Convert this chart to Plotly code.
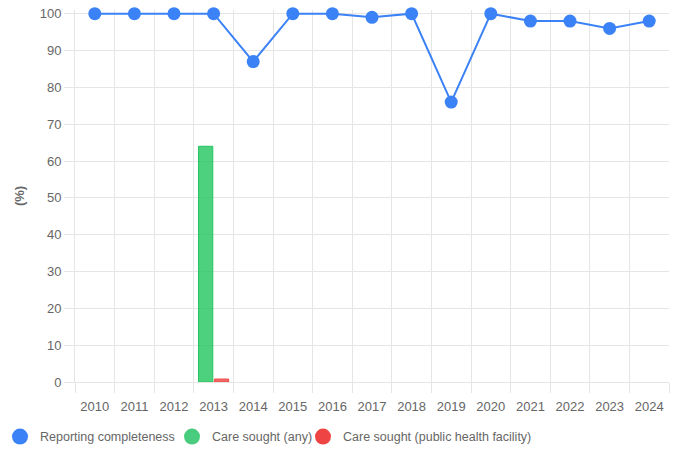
import plotly.graph_objects as go

years = [str(y) for y in range(2010, 2025)]
reporting = [100, 100, 100, 100, 87, 100, 100, 99, 100, 76, 100, 98, 98, 96, 98]
care_any = [None, None, None, 64, None, None, None, None, None, None, None, None, None, None, None]
care_public = [None, None, None, 0.8, None, None, None, None, None, None, None, None, None, None, None]

BLUE = "#3B82F6"
GREEN = "rgb(34,197,94)"
RED = "rgb(239,68,68)"
TXT = "#666666"
GRID = "#e5e5e5"

fig = go.Figure()
fig.add_trace(go.Bar(x=years, y=care_any, name="Care sought (any)",
                     marker=dict(color="rgba(34,197,94,0.8)", line=dict(color=GREEN, width=1)),
                     showlegend=False))
fig.add_trace(go.Bar(x=years, y=care_public, name="Care sought (public health facility)",
                     marker=dict(color="rgba(239,68,68,0.8)", line=dict(color=RED, width=1)),
                     showlegend=False))
fig.add_trace(go.Scatter(x=years, y=reporting, name="Reporting completeness", mode="lines+markers",
                         line=dict(color=BLUE, width=2), marker=dict(color=BLUE, size=13),
                         cliponaxis=False, showlegend=False))

# legend-only entries (circle symbols like the reference), one legend per entry
legend_items = [("Reporting completeness", BLUE, "legend", 0),
                ("Care sought (any)", "rgb(74,204,126)", "legend2", 172),
                ("Care sought (public health facility)", RED, "legend3", 303)]
for name, col, lg, _ in legend_items:
    fig.add_trace(go.Scatter(x=[None], y=[None], mode="markers", name=name, legend=lg,
                             marker=dict(color=col, size=20, symbol="circle")))

layout_legends = {}
for name, col, lg, px in legend_items:
    layout_legends[lg] = dict(orientation="h", xref="container", yref="container",
                              x=px / 678, xanchor="left", y=0.029, yanchor="middle",
                              itemsizing="trace", font=dict(size=12.5, color=TXT),
                              itemwidth=30, bgcolor="rgba(0,0,0,0)")

fig.update_layout(
    width=678, height=450,
    margin=dict(l=75, r=9, t=10, b=68, autoexpand=False),
    paper_bgcolor="white", plot_bgcolor="white",
    font=dict(family="Liberation Sans, Arial, sans-serif", size=13, color=TXT),
    barmode="group", bargap=0.2, bargroupgap=0.1,
    **layout_legends,
)
fig.update_xaxes(type="category", range=[-0.5, 14.5], tickson="boundaries", showgrid=True,
                 gridcolor=GRID, gridwidth=1, automargin=False,
                 ticks="outside", ticklen=10, tickcolor=GRID, showline=True, linecolor=GRID,
                 ticklabelstandoff=12,
                 mirror=False, tickfont=dict(size=13, color=TXT), zeroline=False)
fig.update_yaxes(range=[0, 101], tickvals=list(range(0, 101, 10)), showgrid=True, gridcolor=GRID,
                 ticks="outside", ticklen=10, tickcolor=GRID, showline=True, linecolor=GRID,
                 zeroline=False, tickfont=dict(size=13, color=TXT), automargin=False,
                 ticklabeloverflow="allow",
                 title=dict(text="<b>(%)</b>", font=dict(size=13, color=TXT), standoff=12))

fig.write_html("out.html", config={"displayModeBar": False},
               post_script="document.body.style.margin='0';")
